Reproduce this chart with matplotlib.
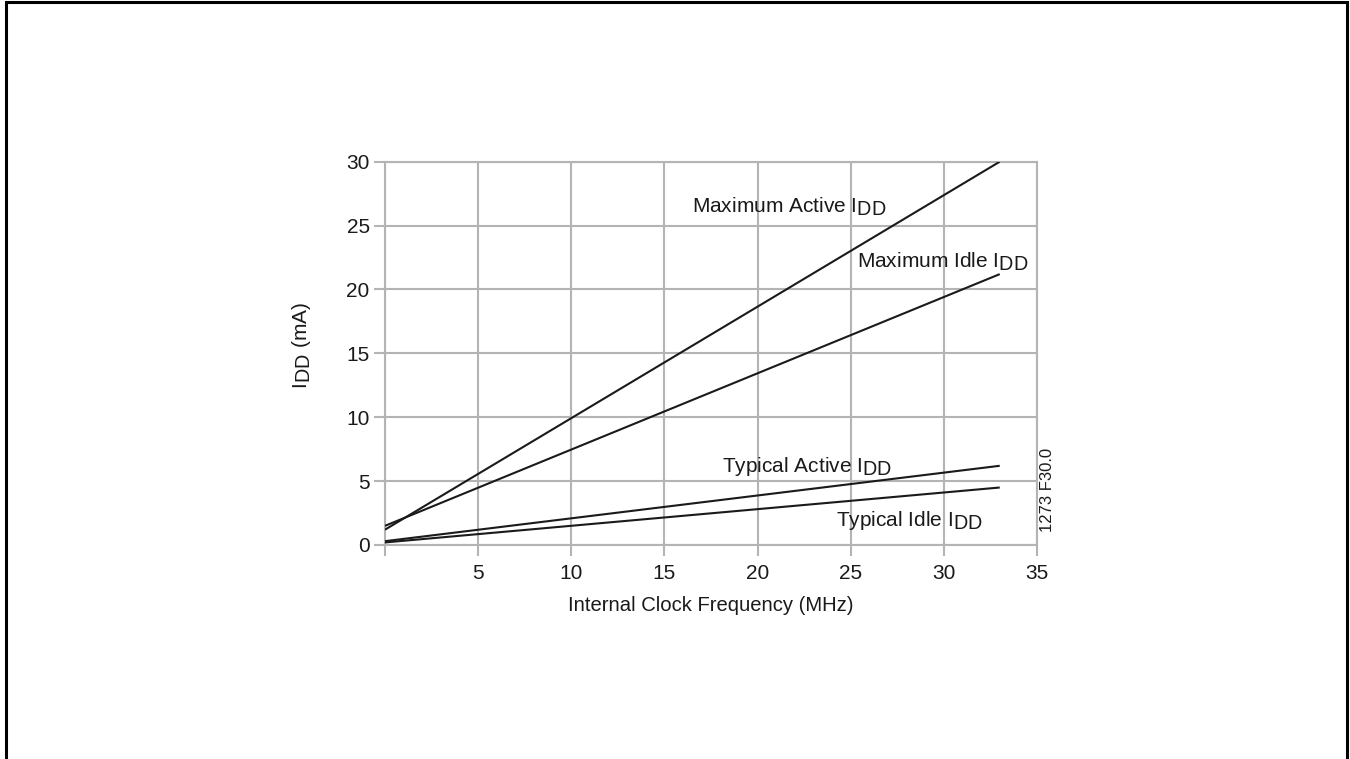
import matplotlib
matplotlib.use("Agg")
import matplotlib.pyplot as plt
from matplotlib.patches import Rectangle

try:
    import matplotlib._mathtext as _mt
    _mt.SHRINK_FACTOR = 0.95
except Exception:
    pass

plt.rcParams['font.family'] = ['Liberation Sans', 'DejaVu Sans']
plt.rcParams['mathtext.default'] = 'regular'

# Data (endpoints of straight lines)
freq = [0, 33]
max_active = [1.2, 30.0]
max_idle = [1.5, 21.2]
typ_active = [0.3, 6.2]
typ_idle = [0.2, 4.5]

x_ticks = [0, 5, 10, 15, 20, 25, 30, 35]
x_ticklabels = ['', '5', '10', '15', '20', '25', '30', '35']
y_ticks = [0, 5, 10, 15, 20, 25, 30]
y_ticklabels = ['0', '5', '10', '15', '20', '25', '30']

fig = plt.figure(figsize=(13.5, 7.59), dpi=100)
ax = fig.add_axes([385/1350, 1-545/759, (1037-385)/1350, (545-161.7)/759])

grid_c = '#b4b4b4'
txt_c = '#1a1a1a'
for y in max_active, max_idle, typ_active, typ_idle:
    ax.plot(freq, y, color='#1a1a1a', lw=1.5, zorder=3, solid_capstyle='butt')

ax.set_xlim(0, 35)
ax.set_ylim(0, 30)
ax.set_xticks(x_ticks)
ax.set_xticklabels(x_ticklabels)
ax.set_yticks(y_ticks)
ax.set_yticklabels(y_ticklabels)
ax.grid(True, color=grid_c, lw=1.5)
for s in ax.spines.values():
    s.set_color(grid_c)
    s.set_linewidth(1.5)
fs = 15
ax.tick_params(axis='both', color=grid_c, width=1.5, length=8, labelsize=fs,
               labelcolor=txt_c)
ax.tick_params(axis='y', pad=3)
ax.tick_params(axis='x', pad=6)

ax.set_xlabel('Internal Clock Frequency (MHz)', fontsize=14.6, color=txt_c, labelpad=9)
ax.set_ylabel('I$_{DD}$ (mA)', fontsize=fs, color=txt_c)
ax.yaxis.set_label_coords(-0.110, 0.52)

ax.text(16.5, 25.98, 'Maximum Active I$_{DD}$', fontsize=fs, color=txt_c, va='baseline')
ax.text(25.35, 21.67, 'Maximum Idle I$_{DD}$', fontsize=fs, color=txt_c, va='baseline')
ax.text(18.1, 5.71, 'Typical Active I$_{DD}$', fontsize=fs, color=txt_c, va='baseline')
ax.text(24.2, 1.49, 'Typical Idle I$_{DD}$', fontsize=fs, color=txt_c, va='baseline')

fig.text(1047/1350, 1-490/759, '1273 F30.0', rotation=90, fontsize=12,
         ha='center', va='center', color=txt_c)

fig.patches.append(Rectangle((6/1350, -0.05), (1347-6)/1350, 1.05 - 2/759,
                             transform=fig.transFigure, fill=False,
                             edgecolor='black', lw=2.2))

fig.savefig('out.png', dpi=100)
